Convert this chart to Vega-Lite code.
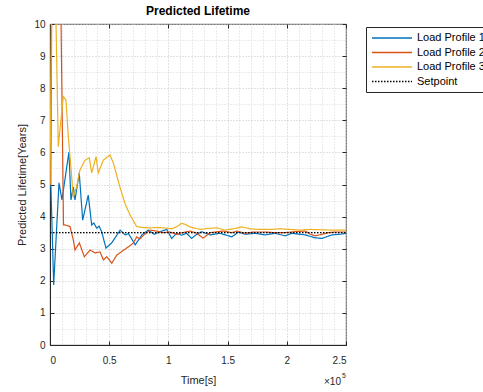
{
  "$schema": "https://vega.github.io/schema/vega-lite/v6.json",
  "width": 296,
  "height": 321,
  "autosize": "none",
  "padding": {"left": 50, "top": 24, "right": 137, "bottom": 47},
  "background": "white",
  "config": {
    "font": "Liberation Sans",
    "view": {"stroke": "#262626", "strokeWidth": 0.8},
    "axis": {"labelFontSize": 10, "labelColor": "#262626", "titleFontSize": 11, "titleColor": "#262626", "titleFontWeight": "normal", "domainColor": "#262626", "tickColor": "#262626"}
  },
  "title": {"text": "Predicted Lifetime", "fontSize": 12, "fontWeight": "bold", "anchor": "middle", "frame": "group", "offset": -3, "color": "#000000"},
  "data": {"values": [
    {"s": "Load Profile 1", "t": 0, "v": 5.0},
    {"s": "Load Profile 1", "t": 800, "v": 4.92},
    {"s": "Load Profile 1", "t": 3100, "v": 1.87},
    {"s": "Load Profile 1", "t": 7600, "v": 5.05},
    {"s": "Load Profile 1", "t": 10100, "v": 4.52},
    {"s": "Load Profile 1", "t": 16000, "v": 6.01},
    {"s": "Load Profile 1", "t": 17700, "v": 4.52},
    {"s": "Load Profile 1", "t": 19700, "v": 4.92},
    {"s": "Load Profile 1", "t": 21100, "v": 4.52},
    {"s": "Load Profile 1", "t": 24700, "v": 5.36},
    {"s": "Load Profile 1", "t": 27600, "v": 3.89},
    {"s": "Load Profile 1", "t": 32300, "v": 4.67},
    {"s": "Load Profile 1", "t": 35200, "v": 3.74},
    {"s": "Load Profile 1", "t": 37000, "v": 3.8},
    {"s": "Load Profile 1", "t": 39400, "v": 3.64},
    {"s": "Load Profile 1", "t": 41500, "v": 3.7},
    {"s": "Load Profile 1", "t": 43700, "v": 3.52},
    {"s": "Load Profile 1", "t": 47300, "v": 3.02},
    {"s": "Load Profile 1", "t": 52100, "v": 3.18},
    {"s": "Load Profile 1", "t": 57700, "v": 3.49},
    {"s": "Load Profile 1", "t": 59200, "v": 3.58},
    {"s": "Load Profile 1", "t": 63400, "v": 3.43},
    {"s": "Load Profile 1", "t": 66300, "v": 3.47},
    {"s": "Load Profile 1", "t": 72000, "v": 3.12},
    {"s": "Load Profile 1", "t": 77600, "v": 3.43},
    {"s": "Load Profile 1", "t": 82900, "v": 3.58},
    {"s": "Load Profile 1", "t": 88000, "v": 3.45},
    {"s": "Load Profile 1", "t": 93000, "v": 3.53},
    {"s": "Load Profile 1", "t": 98600, "v": 3.6},
    {"s": "Load Profile 1", "t": 102800, "v": 3.32},
    {"s": "Load Profile 1", "t": 107000, "v": 3.48},
    {"s": "Load Profile 1", "t": 111000, "v": 3.42},
    {"s": "Load Profile 1", "t": 115400, "v": 3.48},
    {"s": "Load Profile 1", "t": 119600, "v": 3.32},
    {"s": "Load Profile 1", "t": 124000, "v": 3.45},
    {"s": "Load Profile 1", "t": 128100, "v": 3.53},
    {"s": "Load Profile 1", "t": 135200, "v": 3.43},
    {"s": "Load Profile 1", "t": 143600, "v": 3.48},
    {"s": "Load Profile 1", "t": 148000, "v": 3.43},
    {"s": "Load Profile 1", "t": 153600, "v": 3.37},
    {"s": "Load Profile 1", "t": 159200, "v": 3.52},
    {"s": "Load Profile 1", "t": 164800, "v": 3.45},
    {"s": "Load Profile 1", "t": 173300, "v": 3.48},
    {"s": "Load Profile 1", "t": 181700, "v": 3.43},
    {"s": "Load Profile 1", "t": 190200, "v": 3.48},
    {"s": "Load Profile 1", "t": 198600, "v": 3.4},
    {"s": "Load Profile 1", "t": 204300, "v": 3.48},
    {"s": "Load Profile 1", "t": 215500, "v": 3.43},
    {"s": "Load Profile 1", "t": 224000, "v": 3.34},
    {"s": "Load Profile 1", "t": 229700, "v": 3.32},
    {"s": "Load Profile 1", "t": 238100, "v": 3.43},
    {"s": "Load Profile 1", "t": 245100, "v": 3.45},
    {"s": "Load Profile 1", "t": 250000, "v": 3.48},
    {"s": "Load Profile 2", "t": 0, "v": 5.0},
    {"s": "Load Profile 2", "t": 700, "v": 5.0},
    {"s": "Load Profile 2", "t": 1400, "v": 10.2},
    {"s": "Load Profile 2", "t": 9300, "v": 10.2},
    {"s": "Load Profile 2", "t": 11400, "v": 3.74},
    {"s": "Load Profile 2", "t": 12700, "v": 3.74},
    {"s": "Load Profile 2", "t": 16900, "v": 3.69},
    {"s": "Load Profile 2", "t": 19700, "v": 3.27},
    {"s": "Load Profile 2", "t": 21100, "v": 2.96},
    {"s": "Load Profile 2", "t": 24800, "v": 3.18},
    {"s": "Load Profile 2", "t": 29000, "v": 2.75},
    {"s": "Load Profile 2", "t": 33800, "v": 2.96},
    {"s": "Load Profile 2", "t": 38000, "v": 2.87},
    {"s": "Load Profile 2", "t": 42300, "v": 2.9},
    {"s": "Load Profile 2", "t": 45100, "v": 2.65},
    {"s": "Load Profile 2", "t": 47900, "v": 2.75},
    {"s": "Load Profile 2", "t": 52200, "v": 2.55},
    {"s": "Load Profile 2", "t": 56400, "v": 2.8},
    {"s": "Load Profile 2", "t": 62000, "v": 2.95},
    {"s": "Load Profile 2", "t": 66000, "v": 3.05},
    {"s": "Load Profile 2", "t": 70400, "v": 3.18},
    {"s": "Load Profile 2", "t": 73300, "v": 3.37},
    {"s": "Load Profile 2", "t": 76000, "v": 3.3},
    {"s": "Load Profile 2", "t": 78900, "v": 3.42},
    {"s": "Load Profile 2", "t": 84500, "v": 3.58},
    {"s": "Load Profile 2", "t": 90000, "v": 3.55},
    {"s": "Load Profile 2", "t": 95000, "v": 3.5},
    {"s": "Load Profile 2", "t": 101400, "v": 3.52},
    {"s": "Load Profile 2", "t": 107100, "v": 3.45},
    {"s": "Load Profile 2", "t": 112000, "v": 3.5},
    {"s": "Load Profile 2", "t": 118300, "v": 3.55},
    {"s": "Load Profile 2", "t": 124000, "v": 3.48},
    {"s": "Load Profile 2", "t": 129300, "v": 3.33},
    {"s": "Load Profile 2", "t": 135200, "v": 3.5},
    {"s": "Load Profile 2", "t": 140000, "v": 3.52},
    {"s": "Load Profile 2", "t": 146200, "v": 3.55},
    {"s": "Load Profile 2", "t": 153600, "v": 3.5},
    {"s": "Load Profile 2", "t": 158000, "v": 3.55},
    {"s": "Load Profile 2", "t": 164800, "v": 3.48},
    {"s": "Load Profile 2", "t": 172000, "v": 3.52},
    {"s": "Load Profile 2", "t": 181700, "v": 3.52},
    {"s": "Load Profile 2", "t": 190000, "v": 3.5},
    {"s": "Load Profile 2", "t": 198600, "v": 3.5},
    {"s": "Load Profile 2", "t": 207000, "v": 3.53},
    {"s": "Load Profile 2", "t": 215500, "v": 3.55},
    {"s": "Load Profile 2", "t": 220000, "v": 3.45},
    {"s": "Load Profile 2", "t": 224000, "v": 3.4},
    {"s": "Load Profile 2", "t": 229900, "v": 3.45},
    {"s": "Load Profile 2", "t": 235000, "v": 3.5},
    {"s": "Load Profile 2", "t": 240900, "v": 3.52},
    {"s": "Load Profile 2", "t": 250000, "v": 3.52},
    {"s": "Load Profile 3", "t": 0, "v": 5.0},
    {"s": "Load Profile 3", "t": 1200, "v": 10.2},
    {"s": "Load Profile 3", "t": 5000, "v": 10.2},
    {"s": "Load Profile 3", "t": 7000, "v": 6.18},
    {"s": "Load Profile 3", "t": 11200, "v": 7.74},
    {"s": "Load Profile 3", "t": 13500, "v": 7.63},
    {"s": "Load Profile 3", "t": 15500, "v": 6.49},
    {"s": "Load Profile 3", "t": 18300, "v": 5.24},
    {"s": "Load Profile 3", "t": 19700, "v": 4.6},
    {"s": "Load Profile 3", "t": 22500, "v": 4.93},
    {"s": "Load Profile 3", "t": 25300, "v": 5.45},
    {"s": "Load Profile 3", "t": 29600, "v": 5.76},
    {"s": "Load Profile 3", "t": 33200, "v": 5.83},
    {"s": "Load Profile 3", "t": 35200, "v": 5.36},
    {"s": "Load Profile 3", "t": 38900, "v": 5.87},
    {"s": "Load Profile 3", "t": 40800, "v": 5.36},
    {"s": "Load Profile 3", "t": 45000, "v": 5.76},
    {"s": "Load Profile 3", "t": 50700, "v": 5.92},
    {"s": "Load Profile 3", "t": 53500, "v": 5.67},
    {"s": "Load Profile 3", "t": 59200, "v": 4.9},
    {"s": "Load Profile 3", "t": 63400, "v": 4.4},
    {"s": "Load Profile 3", "t": 67600, "v": 4.05},
    {"s": "Load Profile 3", "t": 73200, "v": 3.69},
    {"s": "Load Profile 3", "t": 78000, "v": 3.66},
    {"s": "Load Profile 3", "t": 84500, "v": 3.65},
    {"s": "Load Profile 3", "t": 92000, "v": 3.66},
    {"s": "Load Profile 3", "t": 98600, "v": 3.64},
    {"s": "Load Profile 3", "t": 103000, "v": 3.62},
    {"s": "Load Profile 3", "t": 107100, "v": 3.69},
    {"s": "Load Profile 3", "t": 111300, "v": 3.79},
    {"s": "Load Profile 3", "t": 114100, "v": 3.76},
    {"s": "Load Profile 3", "t": 118000, "v": 3.68},
    {"s": "Load Profile 3", "t": 121100, "v": 3.65},
    {"s": "Load Profile 3", "t": 127000, "v": 3.6},
    {"s": "Load Profile 3", "t": 132400, "v": 3.63},
    {"s": "Load Profile 3", "t": 140900, "v": 3.65},
    {"s": "Load Profile 3", "t": 148000, "v": 3.58},
    {"s": "Load Profile 3", "t": 155000, "v": 3.62},
    {"s": "Load Profile 3", "t": 162000, "v": 3.68},
    {"s": "Load Profile 3", "t": 169000, "v": 3.62},
    {"s": "Load Profile 3", "t": 177000, "v": 3.6},
    {"s": "Load Profile 3", "t": 186000, "v": 3.6},
    {"s": "Load Profile 3", "t": 195000, "v": 3.62},
    {"s": "Load Profile 3", "t": 202900, "v": 3.6},
    {"s": "Load Profile 3", "t": 211000, "v": 3.58},
    {"s": "Load Profile 3", "t": 219800, "v": 3.6},
    {"s": "Load Profile 3", "t": 228000, "v": 3.59},
    {"s": "Load Profile 3", "t": 236700, "v": 3.58},
    {"s": "Load Profile 3", "t": 243000, "v": 3.58},
    {"s": "Load Profile 3", "t": 250000, "v": 3.58},
    {"s": "Setpoint", "t": 0, "v": 3.5},
    {"s": "Setpoint", "t": 250000, "v": 3.5}
  ]},
  "layer": [
    {
      "mark": {"type": "point", "opacity": 0},
      "encoding": {
        "x": {"field": "t", "type": "quantitative", "scale": {"domain": [0, 250000], "nice": false, "zero": false},
              "axis": {"orient": "bottom", "values": [10000,20000,30000,40000,60000,70000,80000,90000,110000,120000,130000,140000,160000,170000,180000,190000,210000,220000,230000,240000],
                       "grid": true, "gridDash": [1, 2], "gridColor": "#d6d6d6", "labels": false, "ticks": false, "domain": false, "title": null}},
        "y": {"field": "v", "type": "quantitative", "scale": {"domain": [0, 10], "nice": false, "zero": false},
              "axis": {"orient": "left", "values": [0.5,1.5,2.5,3.5,4.5,5.5,6.5,7.5,8.5,9.5],
                       "grid": true, "gridDash": [1, 2], "gridColor": "#d6d6d6", "labels": false, "ticks": false, "domain": false, "title": null}}
      }
    },
    {
      "mark": {"type": "point", "opacity": 0},
      "encoding": {
        "x": {"field": "t", "type": "quantitative",
              "axis": {"orient": "top", "values": [0,50000,100000,150000,200000,250000], "grid": false, "labels": false, "ticks": true, "tickSize": -4, "domain": false, "title": null}},
        "y": {"field": "v", "type": "quantitative",
              "axis": {"orient": "right", "values": [0,1,2,3,4,5,6,7,8,9,10], "grid": false, "labels": false, "ticks": true, "tickSize": -4, "domain": false, "title": null}}
      }
    },
    {
      "mark": {"type": "line", "clip": true, "strokeWidth": 1.2},
      "encoding": {
        "x": {"field": "t", "type": "quantitative",
              "axis": {"orient": "bottom", "values": [0,50000,100000,150000,200000,250000], "labelExpr": "datum.value / 100000",
                       "grid": true, "gridDash": [1, 2], "gridColor": "#c4c4c4", "tickSize": -4, "labelPadding": 14, "title": "Time[s]", "titlePadding": 9}},
        "y": {"field": "v", "type": "quantitative",
              "axis": {"orient": "left", "values": [0,1,2,3,4,5,6,7,8,9,10],
                       "grid": true, "gridDash": [1, 2], "gridColor": "#c4c4c4", "tickSize": -4, "labelPadding": 9, "title": "Predicted Lifetime[Years]", "titlePadding": 6}},
        "color": {"field": "s", "type": "nominal",
                  "scale": {"domain": ["Load Profile 1", "Load Profile 2", "Load Profile 3", "Setpoint"], "range": ["#0072BD", "#D95319", "#EDB120", "#000000"]},
                  "legend": {"orient": "none", "legendX": 316, "legendY": 3, "title": null, "strokeColor": "#262626", "fillColor": "white", "padding": 5, "symbolType": "M-4,0L4,0", "symbolSize": 100, "symbolOffset": 15, "symbolStrokeWidth": 1.5, "labelFontSize": 11, "labelColor": "#000000", "rowPadding": 3.5, "labelOffset": 19}},
        "strokeDash": {"field": "s", "type": "nominal",
                  "scale": {"domain": ["Load Profile 1", "Load Profile 2", "Load Profile 3", "Setpoint"], "range": [[1, 0], [1, 0], [1, 0], [1.5, 1.5]]},
                  "legend": {"orient": "none", "legendX": 316, "legendY": 3, "title": null, "strokeColor": "#262626", "fillColor": "white", "padding": 5, "symbolType": "M-4,0L4,0", "symbolSize": 100, "symbolOffset": 15, "symbolStrokeWidth": 1.5, "labelFontSize": 11, "labelColor": "#000000", "rowPadding": 3.5, "labelOffset": 19}}
      }
    },
    {
      "data": {"values": [{"lbl": "×10", "t": 250000, "v": 0}]},
      "mark": {"type": "text", "align": "right", "baseline": "middle", "dy": 37, "dx": -5, "fontSize": 10, "color": "#262626"},
      "encoding": {
        "x": {"field": "t", "type": "quantitative", "axis": null},
        "y": {"field": "v", "type": "quantitative", "axis": null},
        "text": {"field": "lbl"}
      }
    },
    {
      "data": {"values": [{"lbl": "5", "t": 250000, "v": 0}]},
      "mark": {"type": "text", "align": "right", "baseline": "middle", "dy": 31, "dx": 0, "fontSize": 7, "color": "#262626"},
      "encoding": {
        "x": {"field": "t", "type": "quantitative", "axis": null},
        "y": {"field": "v", "type": "quantitative", "axis": null},
        "text": {"field": "lbl"}
      }
    }
  ]
}
